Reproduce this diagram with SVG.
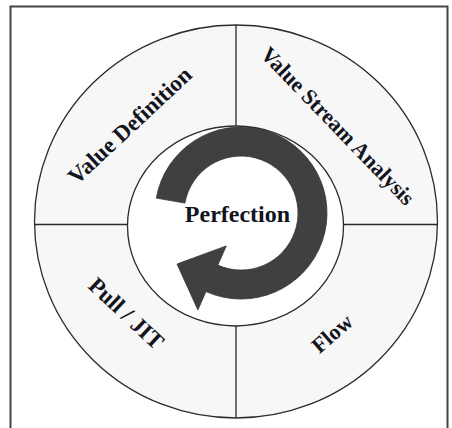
<svg xmlns="http://www.w3.org/2000/svg" width="452" height="428" viewBox="0 0 452 428">
  <style>
    .ring { fill: #f7f7f7; stroke: #2b2b2b; stroke-width: 1.3; }
    .core { fill: #ffffff; stroke: #2b2b2b; stroke-width: 1.3; }
    .div { stroke: #2b2b2b; stroke-width: 1.3; fill: none; }
    .lbl { font-family: "Liberation Serif", "Times New Roman", serif; font-weight: bold; font-size: 22px; fill: #141420; text-anchor: middle; }
    .mid { font-size: 23px; }
    .big { font-size: 24px; }
    .arrow { fill: #404040; stroke: #333; stroke-width: 0.8; }
  </style>
  <rect x="0" y="0" width="452" height="428" fill="#ffffff"/>
  <rect x="10.5" y="6.5" width="437" height="440" fill="none" stroke="#444" stroke-width="2"/>

  <g id="outer-ring">
    <ellipse class="ring" cx="236" cy="221.5" rx="201.5" ry="196.5"/>
  </g>

  <g id="connectors">
    <line class="div" x1="236" y1="25" x2="236" y2="126"/>
    <line class="div" x1="236" y1="326" x2="236" y2="418"/>
    <line class="div" x1="34.5" y1="224.5" x2="127.5" y2="224.5"/>
    <line class="div" x1="343.5" y1="224.5" x2="437.5" y2="224.5"/>
  </g>

  <g id="value-definition">
    <text class="lbl mid" transform="translate(135,131) rotate(-43)">Value Definition</text>
  </g>
  <g id="value-stream-analysis">
    <text class="lbl" transform="translate(332.5,131) rotate(46)">Value Stream Analysis</text>
  </g>
  <g id="pull-jit">
    <text class="lbl mid" transform="translate(121,319) rotate(43)">Pull / JIT</text>
  </g>
  <g id="flow">
    <text class="lbl" transform="translate(337,339) rotate(-41)">Flow</text>
  </g>

  <g id="perfection">
    <ellipse class="core" cx="235.5" cy="226" rx="108" ry="100"/>
    <path class="arrow" d="M156.3,198.1 A86,86 0 1 1 206,291.6 L197.9,309.9 L177,264 L226.3,245.9 L217.8,265.1 A57,57 0 1 0 184.9,203.1 Z"/>
    <text class="lbl big" x="237.5" y="222">Perfection</text>
  </g>
</svg>
